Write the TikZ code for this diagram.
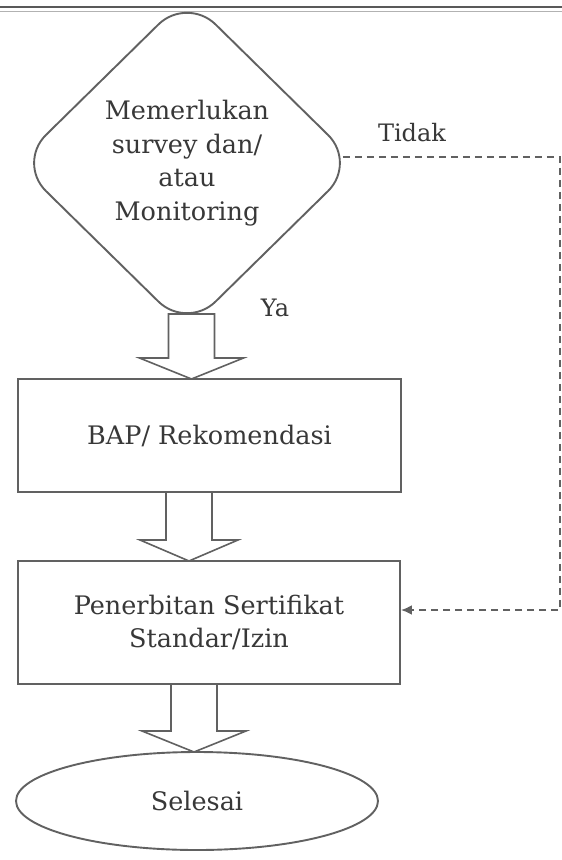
\documentclass[tikz,border=0pt]{standalone}
\usepackage{fontspec}
\setmainfont{DejaVu Serif}
\usetikzlibrary{shapes.geometric,arrows.meta}
\newcommand\blockarrow[5]{% #1 x-centre, #2 top, #3 head base, #4 tip, #5 head half-width
  \draw[blk] (#1-23,#2) -- (#1-23,#3) -- (#1-#5,#3) -- (#1,#4) -- (#1+#5,#3) -- (#1+23,#3) -- (#1+23,#2) -- cycle;}
\begin{document}
\begin{tikzpicture}[x=1pt,y=-1pt,
  ln/.style={draw=black!62, line width=1.9pt},
  txt/.style={text=black!78, font=\fontsize{25.5}{33.5}\selectfont},
  decision/.style={ln, txt, diamond, minimum width=340pt, minimum height=334pt, inner sep=0pt, rounded corners=40pt, align=center},
  procbox/.style={ln, txt, rectangle, inner sep=0pt, align=center},
  endshape/.style={ln, txt, ellipse, inner sep=0pt},
  blk/.style={draw=black!62, line width=1.6pt, fill=white, line join=miter},
  dashln/.style={draw=black!62, line width=2pt, dash pattern=on 7pt off 5pt, -{Latex[length=11pt,width=10pt]}},
  lbl/.style={text=black!78, font=\fontsize{24}{28}\selectfont}]
\useasboundingbox (0,0) rectangle (562,860);
\fill[white] (0,0) rectangle (562,860);
% top rule
\draw[draw=black!65, line width=2pt] (0,7) -- (562,7);
\draw[draw=black!30, line width=0.8pt] (0,11) -- (562,11);

\node[decision] (dec) at (187,163) {Memerlukan\\survey dan/\\atau\\Monitoring};
\node[procbox, minimum width=383pt, minimum height=113pt] (bap) at (209.5,435.5) {BAP/ Rekomendasi};
\node[procbox, minimum width=382pt, minimum height=123pt] (terbit) at (209,622.5) {Penerbitan Sertifikat\\Standar/Izin};
\node[endshape, minimum width=362pt, minimum height=98pt] (selesai) at (197,801) {Selesai};

\node[lbl] (tidak) at (412,133) {Tidak};
\node[lbl] (ya) at (275,308) {Ya};

% block arrows
\blockarrow{191.5}{314}{358}{379}{52}
\blockarrow{189}{492}{540}{561}{49}
\blockarrow{194}{684}{731}{752}{52}

% dashed "Tidak" connector
\coordinate (tr) at (560,157);
\coordinate (br) at (560,610);
\draw[dashln] ([xshift=-15pt,yshift=6pt]dec.east) -- (tr) -- (br) -- ([yshift=12.5pt]terbit.east);
\end{tikzpicture}
\end{document}
